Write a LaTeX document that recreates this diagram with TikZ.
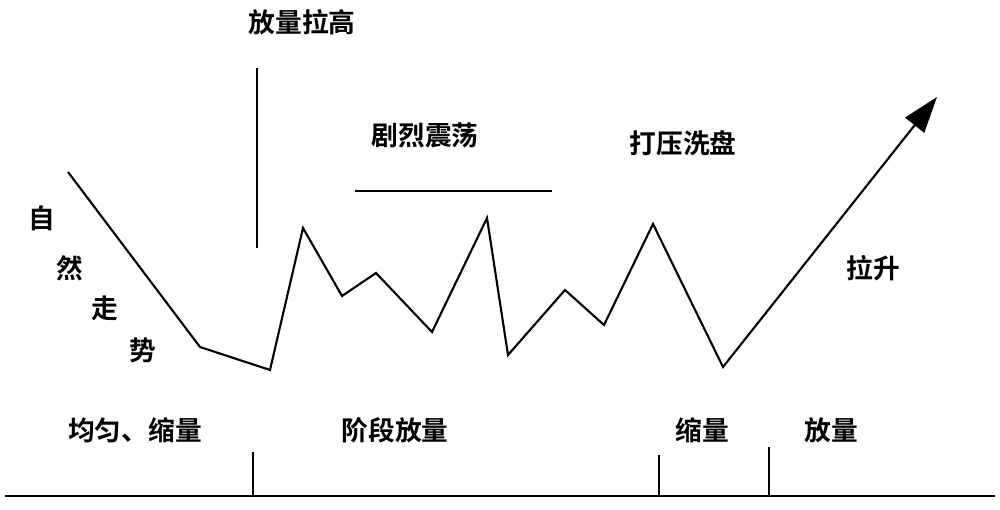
\documentclass[tikz,border=0pt]{standalone}
\usepackage{fontspec}
\setmainfont{Noto Sans CJK SC}[BoldFont={Noto Sans CJK SC Bold}]
\usetikzlibrary{arrows.meta}
\begin{document}
\begin{tikzpicture}[x=0.01cm,y=-0.01cm,
  ln/.style={line width=0.6pt,black},
  lbl/.style={font=\bfseries\fontsize{7.6}{9}\selectfont,inner sep=0pt}]
\useasboundingbox[fill=white] (0,0) rectangle (1000,510);
\coordinate (p0) at (68,172);
\coordinate (p1) at (200,347);
\coordinate (p2) at (270,370);
\coordinate (p3) at (303,228);
\coordinate (p4) at (342,296);
\coordinate (p5) at (376,273);
\coordinate (p6) at (432,332);
\coordinate (p7) at (487,218);
\coordinate (p8) at (508,355);
\coordinate (p9) at (565,290);
\coordinate (p10) at (604,325);
\coordinate (p11) at (653,224);
\coordinate (p12) at (723,367);
\coordinate (p13) at (937,97);
\draw[ln,-{Triangle[length=0.36cm,width=0.24cm]}] (p0)--(p1)--(p2)--(p3)--(p4)--(p5)--(p6)--(p7)--(p8)--(p9)--(p10)--(p11)--(p12)--(p13);
\coordinate (v1) at (257,68); \coordinate (v2) at (257,248);
\draw[ln] (v1)--(v2);
\coordinate (h1) at (355,191); \coordinate (h2) at (552,191);
\draw[ln] (h1)--(h2);
\coordinate (b1) at (5,496); \coordinate (b2) at (995,496);
\draw[ln] (b1)--(b2);
\coordinate (t1) at (253,452); \coordinate (t1b) at (253,496);
\coordinate (t2) at (659,455); \coordinate (t2b) at (659,496);
\coordinate (t3) at (769,447); \coordinate (t3b) at (769,496);
\draw[ln] (t1)--(t1b) (t2)--(t2b) (t3)--(t3b);
\node[lbl] (a) at (302,22) {放量拉高};
\node[lbl] (b) at (425,135) {剧烈震荡};
\node[lbl] (c) at (683,143) {打压洗盘};
\node[lbl] (d) at (873,268) {拉升};
\node[lbl] (e1) at (42,218) {自};
\node[lbl] (e2) at (70,268) {然};
\node[lbl] (e3) at (105,308) {走};
\node[lbl] (e4) at (143,350) {势};
\node[lbl] (f) at (135,430) {均匀、缩量};
\node[lbl] (g) at (395,430) {阶段放量};
\node[lbl] (h) at (702,430) {缩量};
\node[lbl] (i) at (831,430) {放量};
\end{tikzpicture}
\end{document}
